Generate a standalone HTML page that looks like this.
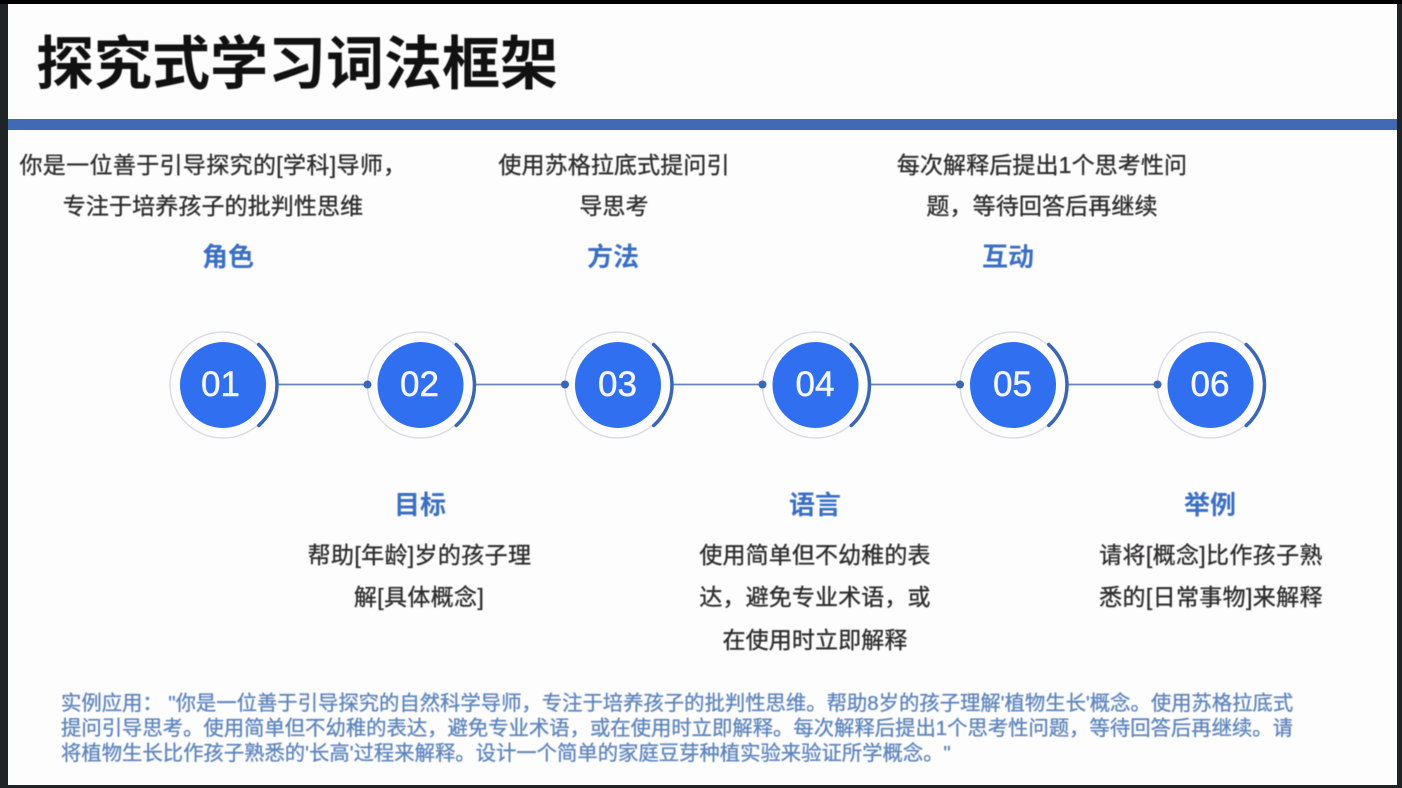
<!DOCTYPE html>
<html lang="zh">
<head>
<meta charset="utf-8">
<style>
html,body{margin:0;padding:0;width:1402px;height:788px;overflow:hidden;background:#1f2526;}
#tb{position:absolute;left:0;top:0;width:1402px;height:4px;background:#000;}
#p{position:absolute;left:8px;top:4px;width:1389px;height:781px;background:#fefdfe;overflow:hidden;}
.t{position:absolute;white-space:nowrap;font-family:"Liberation Sans","Noto Sans CJK SC",sans-serif;width:600px;margin-left:-300px;text-align:center;line-height:1;filter:blur(.45px);}
.b{font-size:23px;color:#2e2e2e;font-weight:400;-webkit-text-stroke:.35px #2e2e2e;letter-spacing:.12px;}
.br{letter-spacing:.35px;}
.h{font-size:26px;color:#3a6fc4;font-weight:700;}
.f{font-size:20.35px;color:#5f86bd;font-weight:400;-webkit-text-stroke:.35px #5f86bd;width:auto;margin-left:0;text-align:left;}
</style>
</head>
<body>
<div id="p"></div>
<div id="tb"></div>
<svg width="1402" height="788" style="position:absolute;left:0;top:0">
<rect x="8" y="119" width="1389" height="11" fill="#4169b4"/>
<g fill="none">
<g stroke="#6484ba" stroke-width="1.7">
<line x1="278" y1="384.5" x2="367" y2="384.5"/>
<line x1="475" y1="384.5" x2="565" y2="384.5"/>
<line x1="673" y1="384.5" x2="762" y2="384.5"/>
<line x1="870" y1="384.5" x2="960" y2="384.5"/>
<line x1="1068" y1="384.5" x2="1157" y2="384.5"/>
</g>
</g>
<defs>
<g id="c">
<circle r="53" fill="#fefdfe" stroke="#d9dbe6" stroke-width="1.5"/>
<circle r="43" fill="#2f6ff0"/>
<path d="M 35.7 -40.5 A 54 54 0 0 1 35.7 40.5" fill="none" stroke="#3a67b5" stroke-width="3.5" stroke-linecap="round"/>
</g>
</defs>
<use href="#c" x="223" y="385"/>
<use href="#c" x="420.5" y="385"/>
<use href="#c" x="618" y="385"/>
<use href="#c" x="815.5" y="385"/>
<use href="#c" x="1013" y="385"/>
<use href="#c" x="1210.5" y="385"/>
<g fill="#3a67b5">
<circle cx="367.5" cy="384.5" r="4"/>
<circle cx="565" cy="384.5" r="4"/>
<circle cx="762.5" cy="384.5" r="4"/>
<circle cx="960" cy="384.5" r="4"/>
<circle cx="1157.5" cy="384.5" r="4"/>
</g>
<g font-family="Liberation Sans,sans-serif" font-size="35" fill="#f2f6fe" stroke="#f2f6fe" stroke-width=".5" text-anchor="middle">
<text x="220.5" y="396">01</text>
<text x="419.5" y="396">02</text>
<text x="617.5" y="396">03</text>
<text x="815" y="396">04</text>
<text x="1012.5" y="396">05</text>
<text x="1210" y="396">06</text>
</g>
</svg>

<div class="t" style="left:297px;top:36px;font-size:58px;font-weight:700;color:#111;">探究式学习词法框架</div>

<div class="t b br" style="left:213px;top:154px;">你是一位善于引导探究的[学科]导师，</div>
<div class="t b" style="left:213px;top:195px;">专注于培养孩子的批判性思维</div>
<div class="t h" style="left:228px;top:244px;">角色</div>

<div class="t b" style="left:614px;top:154px;">使用苏格拉底式提问引</div>
<div class="t b" style="left:614px;top:195px;">导思考</div>
<div class="t h" style="left:613px;top:244px;">方法</div>

<div class="t b" style="left:1042px;top:154px;">每次解释后提出1个思考性问</div>
<div class="t b" style="left:1042px;top:195px;">题，等待回答后再继续</div>
<div class="t h" style="left:1008px;top:244px;">互动</div>

<div class="t h" style="left:420px;top:492px;">目标</div>
<div class="t b br" style="left:419.5px;top:544px;">帮助[年龄]岁的孩子理</div>
<div class="t b br" style="left:419px;top:586px;">解[具体概念]</div>

<div class="t h" style="left:815px;top:492px;">语言</div>
<div class="t b" style="left:815px;top:544px;">使用简单但不幼稚的表</div>
<div class="t b" style="left:815px;top:586px;">达，避免专业术语，或</div>
<div class="t b" style="left:815px;top:629px;">在使用时立即解释</div>

<div class="t h" style="left:1210px;top:492px;">举例</div>
<div class="t b br" style="left:1211px;top:544px;">请将[概念]比作孩子熟</div>
<div class="t b br" style="left:1211px;top:586px;">悉的[日常事物]来解释</div>

<div class="t f" style="left:61px;top:693.5px;">实例应用： "你是一位善于引导探究的自然科学导师，专注于培养孩子的批判性思维。帮助8岁的孩子理解'植物生长'概念。使用苏格拉底式</div>
<div class="t f" style="left:61px;top:718.5px;">提问引导思考。使用简单但不幼稚的表达，避免专业术语，或在使用时立即解释。每次解释后提出1个思考性问题，等待回答后再继续。请</div>
<div class="t f" style="left:61px;top:743.5px;">将植物生长比作孩子熟悉的'长高'过程来解释。设计一个简单的家庭豆芽种植实验来验证所学概念。"</div>
</body>
</html>
